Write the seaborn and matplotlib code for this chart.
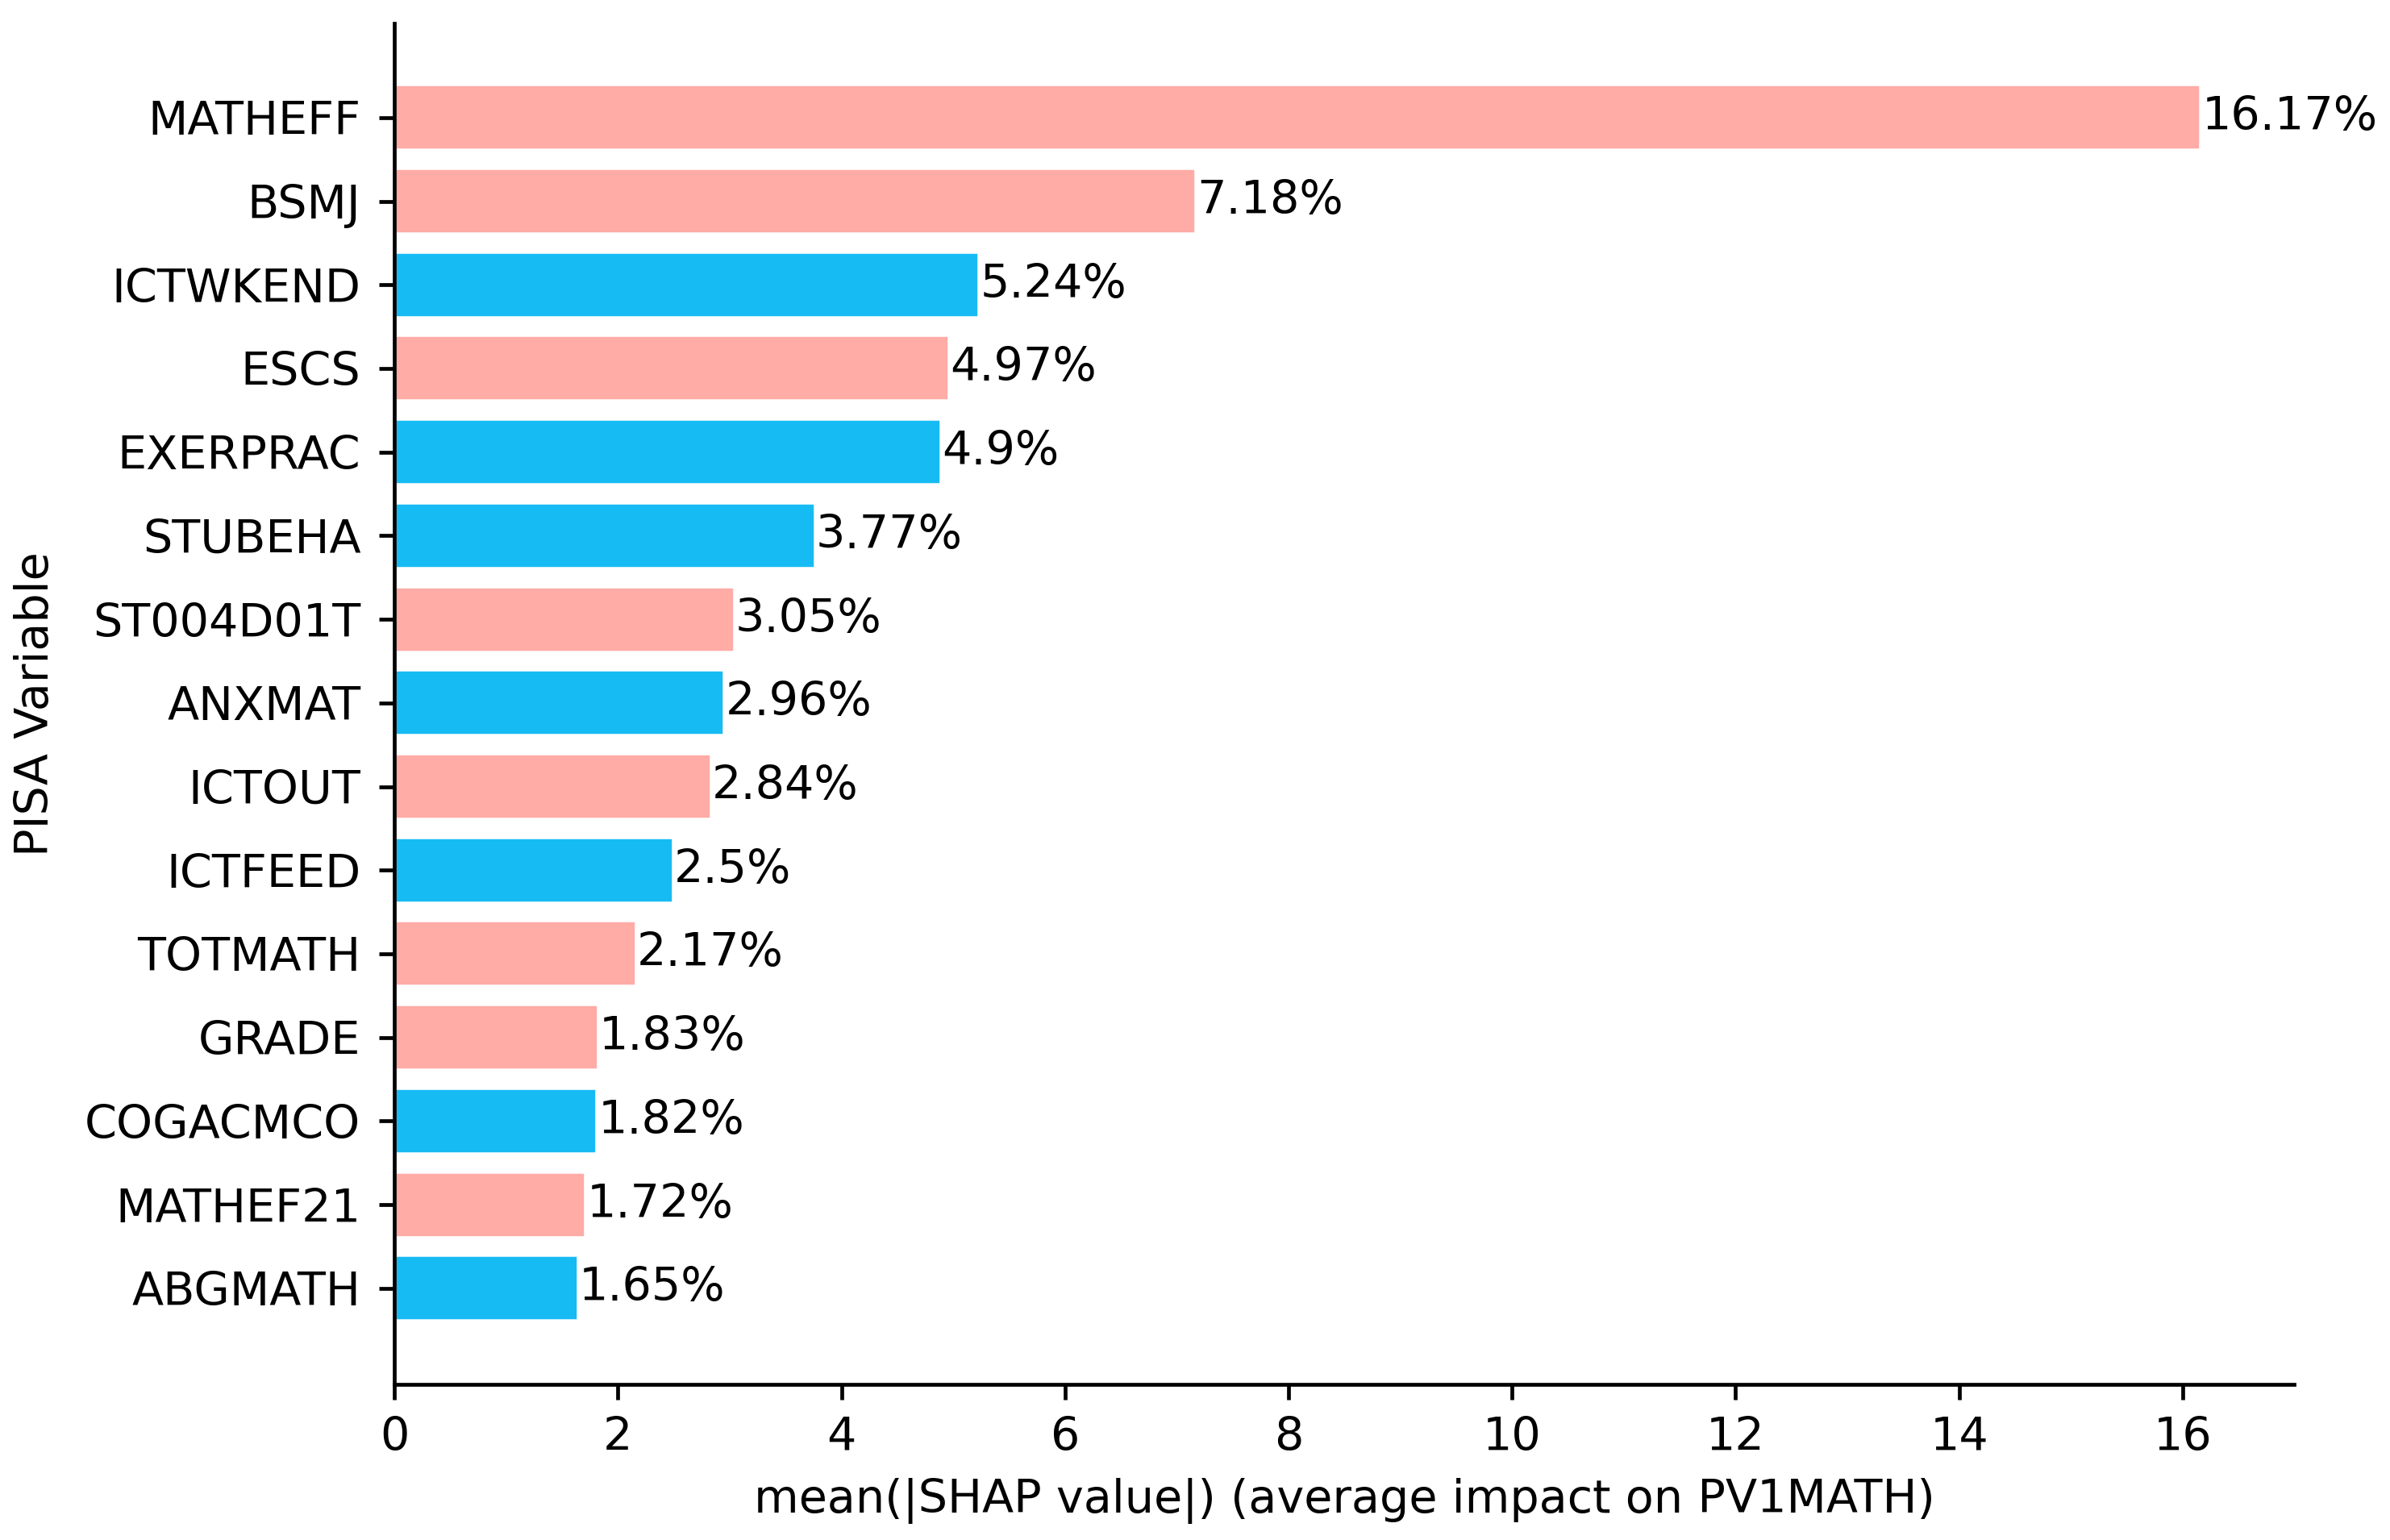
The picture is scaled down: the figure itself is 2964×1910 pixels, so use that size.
import pandas as pd
import matplotlib
matplotlib.use("Agg")
import matplotlib.pyplot as plt
import seaborn as sns

features = ["MATHEFF", "BSMJ", "ICTWKEND", "ESCS", "EXERPRAC", "STUBEHA",
            "ST004D01T", "ANXMAT", "ICTOUT", "ICTFEED", "TOTMATH", "GRADE",
            "COGACMCO", "MATHEF21", "ABGMATH"]
importance = [16.17, 7.18, 5.24, 4.97, 4.9, 3.77, 3.05, 2.96, 2.84, 2.5,
              2.17, 1.83, 1.82, 1.72, 1.65]
direction = ["pos", "pos", "neg", "pos", "neg", "neg", "pos", "neg", "pos",
             "neg", "pos", "pos", "neg", "pos", "neg"]
colors = {"pos": "#FFABA6", "neg": "#17BBF3"}

df = pd.DataFrame({"feature": features, "value": importance, "dir": direction})

sns.set_style("ticks")
plt.rcParams["font.family"] = ["DejaVu Sans"]
plt.rcParams.update({
    "text.color": "black", "axes.labelcolor": "black",
    "xtick.color": "black", "ytick.color": "black",
    "axes.edgecolor": "black", "axes.linewidth": 0.85,
    "xtick.major.size": 3.5, "ytick.major.size": 3.5,
    "xtick.major.width": 0.85, "ytick.major.width": 0.85,
    "xtick.major.pad": 3.5, "ytick.major.pad": 4.0,
    "axes.labelpad": 4.0,
})

fs = 10.3
fig, ax = plt.subplots(figsize=(7.41, 4.775), dpi=400)
sns.barplot(data=df, x="value", y="feature", hue="dir", palette=colors,
            dodge=False, width=0.8, legend=False, saturation=1, ax=ax)

for i, v in enumerate(importance):
    ax.text(v, i, f"{v:g}%", va="center", ha="left", fontsize=fs, color="black")

ax.set_xlim(0, 17)
ax.set_ylim(len(features) - 1 + 1.15, -1.13)
ax.set_xlabel("mean(|SHAP value|) (average impact on PV1MATH)", fontsize=fs)
ax.set_ylabel("PISA Variable", fontsize=fs, labelpad=6)
ax.tick_params(labelsize=fs, colors="black")
sns.despine(ax=ax)

plt.subplots_adjust(left=0.165, right=0.96, top=0.985, bottom=0.101)
plt.savefig("out.png", dpi=400)
plt.close()
